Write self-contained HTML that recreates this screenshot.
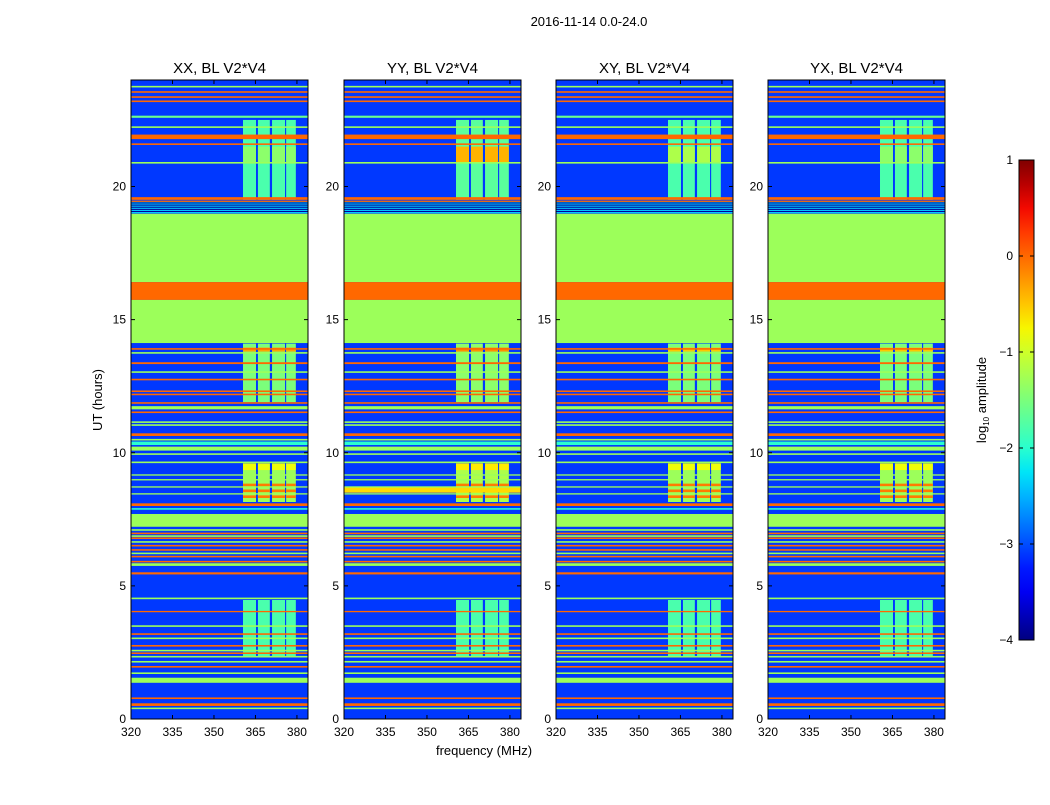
<!DOCTYPE html>
<html><head><meta charset="utf-8"><style>
body{margin:0;background:#fff;}
svg text{font-family:"Liberation Sans",sans-serif;fill:#000;}
</style></head><body>
<svg id="fig" width="1050" height="800" xmlns="http://www.w3.org/2000/svg">
<rect width="1050" height="800" fill="#fff"/>
<text x="589" y="26" font-size="13" text-anchor="middle">2016-11-14 0.0-24.0</text>
<text x="484" y="755" font-size="13" text-anchor="middle">frequency (MHz)</text>
<text transform="translate(102,400) rotate(-90)" font-size="13" text-anchor="middle">UT (hours)</text>
<g id="panels"></g>
<g id="cbar"></g>
</svg>
<script>
// ---- data ----
const panelTitles = ["XX, BL V2*V4","YY, BL V2*V4","XY, BL V2*V4","YX, BL V2*V4"];
const xTicks = [320,335,350,365,380];
const yTicks = [0,5,10,15,20];
const cbTicks = [1,0,-1,-2,-3,-4];
const backgroundValue = -3.1;
// horizontal bands spanning all channels: start hour, end hour, log amplitude
const bandStart = [23.72,23.52,23.33,23.17,22.58,22.2,21.78,21.56,20.86,19.5,19.42,19.0,16.41,15.74,14.12,
 13.87,13.72,13.33,13.0,12.72,12.28,12.16,11.84,11.63,11.49,11.12,11.01,10.63,10.46,10.29,10.08,9.92,9.61,
 9.14,8.96,8.69,8.43,8.0,7.86,7.22,7.07,6.94,6.84,6.76,6.62,6.48,6.32,6.19,6.07,5.88,5.75,5.43,4.5,4.01,3.46,3.16,3.0,2.72,2.54,2.44,2.31,2.12,1.93,1.69,1.36,0.75,0.49,0.37];
const bandEnd = [23.78,23.58,23.39,23.23,22.66,22.26,21.95,21.62,20.92,19.6,19.47,19.42,18.98,16.41,15.74,
 13.93,13.78,13.4,13.06,12.78,12.34,12.22,11.9,11.75,11.55,11.18,11.07,10.73,10.52,10.42,10.23,9.98,9.67,
 9.19,9.01,8.74,8.48,8.1,7.92,7.7,7.13,7.0,6.9,6.82,6.68,6.54,6.38,6.25,6.13,5.94,5.85,5.51,4.56,4.06,3.52,3.22,3.06,2.78,2.6,2.5,2.37,2.18,1.99,1.75,1.55,0.81,0.59,0.43];
const bandValue = [-1.3,0,0,0,-1.6,-1.3,0,0,-1.3,0,0,-2.4,-1.3,0,-1.3,
 0,-1.3,0,-1.3,0,0,0,0,-1.3,0,-1.3,-1.3,0,-1.3,-2,-1.3,-1.3,-1.3,
 -1.3,-1.3,-1.3,-1.3,0,-2,-1.3,-1.3,0,-1.3,0,-1.3,0,0,-1.3,0,0,-1.3,0,-1.3,0,-1.3,0,-1.3,0,-1.3,0,-1.3,-1.3,0,-1.3,-1.3,0,0,-1.3];
// dark lines inside the 19.0-19.42 stripe
const darkLines = [19.38,19.3,19.22,19.14,19.06];
// bright frequency blocks (RFI) — start hour, end hour, value per panel
const blockStart = [19.5,20.9,11.9,13.8,8.15,9.35,2.33];
const blockEnd   = [22.5,21.5,14.1,13.95,9.6,9.6,4.47];
const blockValueXX = [-1.8,-1.4,-1.5,-0.3,-1.3,-0.8,-1.8];
const blockValueYY = [-1.7,-0.4,-1.4,-0.2,-1.2,-0.7,-1.8];
const blockValueXY = [-1.8,-1.2,-1.5,-0.5,-1.3,-0.8,-1.8];
const blockValueYX = [-1.8,-1.4,-1.5,-0.5,-1.3,-0.8,-1.8];
const blockValues = [blockValueXX,blockValueYY,blockValueXY,blockValueYX];
// orange lines within the 8-9.6 block
const blockLines = [8.79,8.57,8.35];
const blockLineValue = -0.1;
// frequency channels of the blocks (MHz)
const chanStart = [360.5,365.9,371.0,376.1];
const chanEnd   = [365.2,370.2,375.7,379.6];
// YY-only wide band
const yyBandStart = 8.5, yyBandEnd = 8.72, yyBandValue = -0.6;

// ---- colormap (matplotlib jet) ----
function interp(seg,t){for(let i=1;i<seg.length;i++){if(t<=seg[i][0]){const a=seg[i-1],b=seg[i];return a[1]+(b[1]-a[1])*(t-a[0])/(b[0]-a[0]);}}return seg[seg.length-1][1];}
const R=[[0,0],[0.35,0],[0.66,1],[0.89,1],[1,0.5]],G=[[0,0],[0.125,0],[0.375,1],[0.64,1],[0.91,0],[1,0]],B=[[0,0.5],[0.11,1],[0.34,1],[0.65,0],[1,0]];
function jet(v){const t=Math.max(0,Math.min(1,(v+4)/5));return `rgb(${Math.round(255*interp(R,t))},${Math.round(255*interp(G,t))},${Math.round(255*interp(B,t))})`;}

const NS="http://www.w3.org/2000/svg";
function mk(tag,attrs,parent){const e=document.createElementNS(NS,tag);for(const k in attrs)e.setAttribute(k,attrs[k]);parent.appendChild(e);return e;}
const panelX=[131,344,556,768], PW=177, TOP=80, BOT=719;
const fmin=320,fmax=384,hmin=0,hmax=24;
const panels=document.getElementById('panels');
panelX.forEach((x0,p)=>{
  const xs=f=>x0+(f-fmin)/(fmax-fmin)*PW;
  const ys=h=>BOT-(h-hmin)/(hmax-hmin)*(BOT-TOP);
  const g=mk('g',{},panels);
  
  
  const bg=mk('rect',{x:x0,y:TOP,width:PW,height:BOT-TOP,fill:jet(backgroundValue)},g);
  
  
  blockStart.forEach((s,i)=>{
    chanStart.forEach((c,j)=>{
      const r=mk('rect',{x:xs(c),y:ys(blockEnd[i]),width:xs(chanEnd[j])-xs(c),height:ys(s)-ys(blockEnd[i]),fill:jet(blockValues[p][i])},g);
      
      
      if(i===4){blockLines.forEach(h=>{
        const l=mk('rect',{x:xs(c),y:ys(h+0.05),width:xs(chanEnd[j])-xs(c),height:ys(h-0.05)-ys(h+0.05),fill:jet(blockLineValue)},g);
        
        
      });}
    });
  });
  if(p===1){
    const r=mk('rect',{x:x0,y:ys(yyBandEnd),width:PW,height:ys(yyBandStart)-ys(yyBandEnd),fill:jet(yyBandValue)},g);
    
    
  }
  bandStart.forEach((s,i)=>{
    const r=mk('rect',{x:x0,y:ys(bandEnd[i]),width:PW,height:Math.max(1,ys(s)-ys(bandEnd[i])),fill:jet(bandValue[i])},g);
    
    
  });
  darkLines.forEach(h=>{
    const r=mk('rect',{x:x0,y:ys(h+0.02),width:PW,height:1,fill:jet(-3.9)},g);
    
    
  });
  const fr=mk('rect',{x:x0,y:TOP,width:PW,height:BOT-TOP,fill:'none',stroke:'#000','stroke-width':1},g);
  
  
  const t=mk('text',{x:x0+PW/2,y:73,'font-size':15,'text-anchor':'middle'},g);
  t.textContent=panelTitles[p];
  
  
  xTicks.forEach(f=>{
    const x=xs(f);
    mk('line',{x1:x,x2:x,y1:BOT,y2:BOT-4,stroke:'#000'},g);
    mk('line',{x1:x,x2:x,y1:TOP,y2:TOP+4,stroke:'#000'},g);
    const l=mk('text',{x:x,y:BOT+17,'font-size':12,'text-anchor':'middle'},g);
    l.textContent=f;
    
    
  });
  yTicks.forEach(h=>{
    const y=ys(h);
    mk('line',{x1:x0,x2:x0+4,y1:y,y2:y,stroke:'#000'},g);
    mk('line',{x1:x0+PW,x2:x0+PW-4,y1:y,y2:y,stroke:'#000'},g);
    const l=mk('text',{x:x0-5,y:y+4,'font-size':12,'text-anchor':'end'},g);
    l.textContent=h;
    
    
  });
});
// colorbar
const cb=document.getElementById('cbar');
const cx=1019,cw=15,ct=160,cbot=640;
const defs=mk('defs',{},cb);
const lg=mk('linearGradient',{id:'jetg',x1:0,y1:1,x2:0,y2:0},defs);
for(let i=0;i<=20;i++){mk('stop',{offset:i/20,'stop-color':jet(-4+5*i/20)},lg);}
mk('rect',{x:cx,y:ct,width:cw,height:cbot-ct,fill:'url(#jetg)',stroke:'#000','stroke-width':1},cb);
cbTicks.forEach(v=>{
  const y=cbot-(v+4)/5*(cbot-ct);
  mk('line',{x1:cx,x2:cx+4,y1:y,y2:y,stroke:'#000'},cb);
  mk('line',{x1:cx+cw,x2:cx+cw-4,y1:y,y2:y,stroke:'#000'},cb);
  const l=mk('text',{x:1013,y:y+4,'font-size':12,'text-anchor':'end'},cb);
  l.textContent=v<0?'\u2212'+(-v):String(v);
  
  
});
const cl=mk('text',{transform:'translate(986,400) rotate(-90)','font-size':13,'text-anchor':'middle'},cb);
cl.innerHTML='log<tspan font-size="8" dy="3">10</tspan><tspan dy="-3"> amplitude</tspan>';


</script>
</body></html>
